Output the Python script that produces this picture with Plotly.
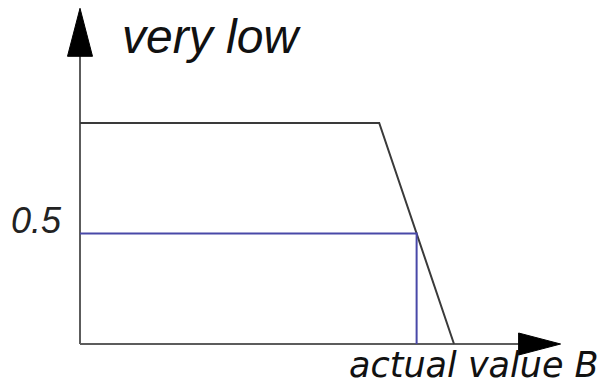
import plotly.graph_objects as go

# Membership function "very low" (trapezoid shoulder) and one evaluated input
trap_x = [0, 8, 10]
trap_y = [1, 1, 0]
actual_value = 9
membership = 0.5
x_axis_end = 12.85
y_axis_end = 1.51

W, H = 605, 389
x_range = [-2.139, 14.037]
y_range = [-0.2036, 1.5566]

AXIS = "#5c5c5c"
CURVE = "#3a3a3a"
BLUE = "#4848a8"

fig = go.Figure()

# axes drawn as lines from origin
fig.add_trace(go.Scatter(x=[0, 0], y=[0, y_axis_end - 0.2], mode="lines",
                         line=dict(color=AXIS, width=2), hoverinfo="skip"))
fig.add_trace(go.Scatter(x=[0, x_axis_end - 1.0], y=[0, 0], mode="lines",
                         line=dict(color=AXIS, width=2), hoverinfo="skip"))

# membership function
fig.add_trace(go.Scatter(x=trap_x, y=trap_y, mode="lines",
                         line=dict(color=CURVE, width=2), hoverinfo="skip"))

# evaluated value: horizontal to the curve, then down to the x axis
fig.add_trace(go.Scatter(x=[0, actual_value, actual_value],
                         y=[membership, membership, 0], mode="lines",
                         line=dict(color=BLUE, width=2), hoverinfo="skip"))

# arrowheads at the axis ends, sized in pixels
px_x = (x_range[1] - x_range[0]) / W
px_y = (y_range[1] - y_range[0]) / H
fig.add_trace(go.Scatter(
    x=[0, -12.5 * px_x, 12.5 * px_x, 0],
    y=[y_axis_end + 2 * px_y, y_axis_end - 46 * px_y, y_axis_end - 46 * px_y,
       y_axis_end + 2 * px_y],
    mode="lines", fill="toself", fillcolor="black",
    line=dict(color="black", width=1), hoverinfo="skip"))
fig.add_trace(go.Scatter(
    x=[x_axis_end, x_axis_end - 42 * px_x, x_axis_end - 42 * px_x, x_axis_end],
    y=[0, 11 * px_y, -11 * px_y, 0],
    mode="lines", fill="toself", fillcolor="black",
    line=dict(color="black", width=1), hoverinfo="skip"))

font = "Liberation Sans, Arial, sans-serif"
fig.add_annotation(text="<i>very low</i>", x=120 / W, y=1 - 36 / H,
                   xref="paper", yref="paper", xanchor="left", yanchor="middle",
                   showarrow=False, font=dict(family=font, size=48, color="#111"))
fig.add_annotation(text="<i>0.5</i>", x=36.5 / W, y=1 - 220 / H,
                   xref="paper", yref="paper", xanchor="center", yanchor="middle",
                   showarrow=False, font=dict(family=font, size=36, color="#222"))
fig.add_annotation(text="<i>actual value B</i>", x=474 / W, y=1 - 365 / H,
                   xref="paper", yref="paper", xanchor="center", yanchor="middle",
                   showarrow=False,
                   font=dict(family="DejaVu Sans, sans-serif", size=35, color="#111"))

fig.update_layout(
    width=W, height=H, margin=dict(l=0, r=0, t=0, b=0),
    paper_bgcolor="white", plot_bgcolor="white", showlegend=False,
    xaxis=dict(range=x_range, visible=False, fixedrange=True),
    yaxis=dict(range=y_range, visible=False, fixedrange=True),
)

fig.write_html("out.html")
